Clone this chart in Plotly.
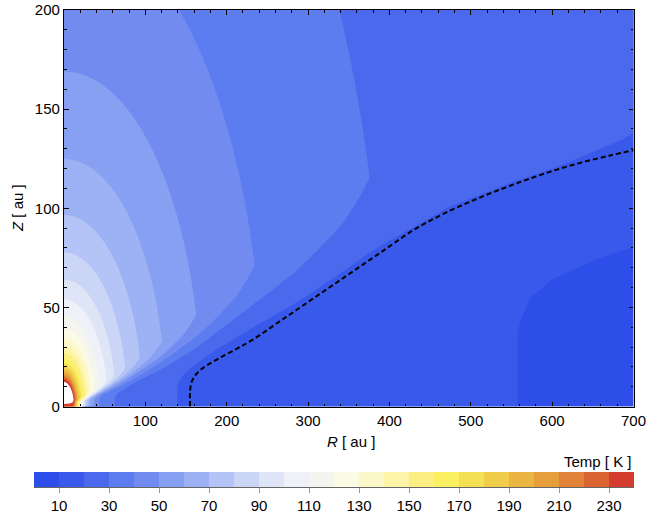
import numpy as np
import plotly.graph_objects as go

# ---------------- values ----------------
# Temperature of the upper layer along the Z axis (contour crossings), used as T(r),
# r = distance from the star [au]
atm_r = [6, 12.3, 13.5, 16.7, 21.9, 27, 34.3, 39.2, 45.5, 54, 64, 77.7, 96.5, 124.8, 169,
         245, 393, 780]
atm_T = [370, 240, 230, 200, 170, 150, 130, 120, 110, 100, 90, 80, 70, 60, 50, 40, 30, 20]

# Midplane temperature (contour crossings along Z = 0)
mid_R = [0, 9, 12, 15, 18, 22, 27, 33, 40, 48, 62, 89, 139, 190, 247, 320, 430, 557, 620, 700]
mid_T = [236, 235, 228, 190, 150, 110, 80, 58, 45, 34, 30, 25, 20, 17.1, 15, 13.2, 11.4, 10,
         9.5, 8.9]

# Height of the warm surface layer (kinks of the isotherms)
surf_R = [0, 10, 20, 40, 70, 117.5, 160, 232, 374.5, 474, 555, 600, 700]
surf_Z = [3, 3.5, 4.5, 9.7, 18.1, 32, 45.5, 70.5, 115, 138, 147, 149, 155]

# Fraction of the midplane->surface temperature step reached at height Z / surface height
step_u = [0, 0.25, 0.29, 0.37, 0.43, 0.49, 0.52, 0.55, 0.61, 0.69, 0.73, 0.78, 0.81, 0.875,
          0.945, 1.0]
step_f = [0, 0, 0.002, 0.009, 0.025, 0.06, 0.09, 0.14, 0.29, 0.46, 0.58, 0.72, 0.78, 0.895,
          0.96, 1.0]

# Dashed curve
dash_R = [155, 155, 157, 161.5, 168, 176, 190, 210, 230, 270, 310, 350, 390, 430, 470, 510,
          550, 590, 630, 670, 700]
dash_Z = [0, 8, 12.5, 15.8, 18.5, 20.8, 24.2, 28.6, 33.2, 44.3, 55.5, 66.7, 77.9, 89.1, 97.9,
          105.2, 111.6, 117.4, 122.4, 126.5, 129.3]

band_colors = ["#2d4ee8", "#3859ea", "#4a69ec", "#5c7def", "#718bf0", "#87a0f2",
               "#9db2f4", "#b5c4f6", "#cbd6f7", "#dee5f7", "#eef1f8", "#f3f5ee",
               "#fbfae4", "#fcf8c9", "#fcf4a6", "#fbef84", "#fbf062", "#f4e055",
               "#efcd4a", "#ebb542", "#e69d3c", "#e08338", "#da6533", "#d43c2e"]
cb_ticks = list(range(10, 240, 20))
x_ticks = [0, 100, 200, 300, 400, 500, 600, 700]
y_ticks = [0, 50, 100, 150, 200]

# ---------------- temperature map on the plotting grid ----------------
R = np.concatenate([np.arange(0, 40, 0.5), np.arange(40, 700.01, 2.5)])
Z = np.concatenate([np.arange(0, 20, 0.25), np.arange(20, 200.01, 1.0)])
RR, ZZ = np.meshgrid(R, Z)
rr = np.maximum(np.hypot(RR, ZZ), 1.0)
T_up = np.exp(np.interp(np.log(rr), np.log(atm_r), np.log(atm_T)))
T_md = np.interp(RR, mid_R, mid_T)
frac = np.interp(ZZ / np.interp(RR, surf_R, surf_Z), step_u, step_f)
T = np.round(np.minimum(T_md + (T_up - T_md) * frac, 300), 2)

cols = [band_colors[0]] + band_colors + ["#ffffff"]
cscale = [[0.04 * j, c] for j, c in enumerate(cols)]

fig = go.Figure()
fig.add_trace(go.Contour(
    x=R, y=Z, z=T, colorscale=cscale, showscale=False,
    autocontour=False, contours=dict(start=0, end=240, size=10, coloring="fill"),
    line=dict(width=0, smoothing=1), hoverinfo="skip"))
fig.add_trace(go.Scatter(x=dash_R, y=dash_Z, mode="lines",
                         line=dict(color="black", width=2, dash="5px,3px", shape="spline"),
                         hoverinfo="skip", showlegend=False, cliponaxis=True))
centers = [5 + 10 * i for i in range(24)]
fig.add_trace(go.Heatmap(x=centers, y=[0], z=[centers], colorscale=cscale, zmin=-5, zmax=245,
                         showscale=False, xaxis="x2", yaxis="y2", hoverinfo="skip"))

font = dict(family="Liberation Sans, Arial, sans-serif", size=15, color="black")
W = 600.0
H = 477.0
fig.update_layout(
    width=646, height=514, margin=dict(l=34, r=12, t=10, b=27, autoexpand=False),
    paper_bgcolor="white", plot_bgcolor="white", font=font, showlegend=False,
    xaxis=dict(domain=[30 / W, 599.5 / W], range=[0, 700], tickmode="array",
               tickvals=x_ticks, ticktext=[""] + [str(v) for v in x_ticks[1:]],
               ticks="inside", ticklen=4.5, tickcolor="black", tickwidth=1,
               ticklabeloverflow="allow", automargin=False,
               minor=dict(tickmode="linear", tick0=0, dtick=20, ticks="inside", ticklen=2.5,
                          tickcolor="black", tickwidth=1),
               showline=True, linecolor="black", linewidth=1.2, mirror="allticks",
               showgrid=False, zeroline=False),
    yaxis=dict(domain=[80.5 / H, 1.0], range=[0, 200], tickmode="array",
               tickvals=y_ticks,
               ticks="inside", ticklen=4.5, tickcolor="black", tickwidth=1,
               ticklabeloverflow="allow", automargin=False,
               minor=dict(tickmode="linear", tick0=0, dtick=10, ticks="inside", ticklen=2.5,
                          tickcolor="black", tickwidth=1),
               showline=True, linecolor="black", linewidth=1.2, mirror="allticks",
               showgrid=False, zeroline=False),
    xaxis2=dict(domain=[0, 1], range=[0, 240], anchor="y2", tickmode="array",
                tickvals=cb_ticks, ticks="outside", ticklen=5, tickcolor="#999999",
                showline=True, linecolor="#666666", linewidth=1, showgrid=False,
                zeroline=False, automargin=False, ticklabeloverflow="allow"),
    yaxis2=dict(domain=[0, 15 / H], range=[-0.5, 0.5], anchor="x2", visible=False),
    annotations=[
        dict(text="Temp [ K ]", xref="paper", yref="paper", x=1.0, y=(487 - 461) / H,
             xanchor="right", yanchor="middle", showarrow=False, font=font),
        dict(text="<i>R</i> [ au ]", xref="paper", yref="paper", x=(351 - 34) / W,
             y=(487 - 441) / H, xanchor="center", yanchor="middle", showarrow=False,
             font=font),
        dict(text="<i>Z</i> [ au ]", xref="paper", yref="paper", x=(17 - 34) / W,
             y=(487 - 208) / H, xanchor="center", yanchor="middle", showarrow=False,
             textangle=-90, font=font),
    ],
)
fig.write_html("out.html", config={"displayModeBar": False},
               post_script="document.body.style.margin='0px';"
                           "document.body.style.overflow='hidden';")
